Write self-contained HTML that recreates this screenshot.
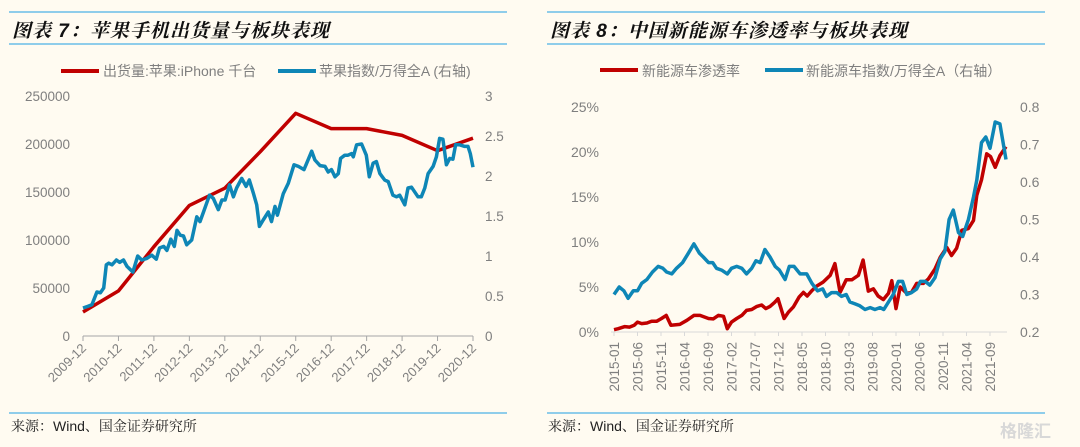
<!DOCTYPE html>
<html><head><meta charset="utf-8">
<style>
html,body{margin:0;padding:0;background:#fffbf1;}
body{width:1080px;height:447px;overflow:hidden;position:relative;font-family:"Liberation Sans","Noto Sans CJK SC",sans-serif;}
.title{position:absolute;top:16px;font-family:"Liberation Sans","Noto Serif CJK SC","Noto Sans CJK SC",sans-serif;font-weight:bold;font-style:italic;font-size:19px;color:#111;letter-spacing:1px;}
.hl{position:absolute;height:2px;background:#8fcdea;}
.src{position:absolute;top:416px;font-family:"Liberation Sans","Noto Serif CJK SC",sans-serif;font-size:14px;color:#222;}
svg{position:absolute;left:0;top:0;}
.wm{position:absolute;left:1000px;top:417px;font-size:17px;font-weight:bold;color:#d8d8d8;}
</style></head>
<body>
<div class="hl" style="left:9px;top:11px;width:498px;"></div>
<div class="hl" style="left:9px;top:43px;width:498px;"></div>
<div class="title" style="left:12px;">图表 7：苹果手机出货量与板块表现</div>
<div class="hl" style="left:547px;top:11px;width:498px;"></div>
<div class="hl" style="left:547px;top:43px;width:498px;"></div>
<div class="title" style="left:550px;">图表 8：中国新能源车渗透率与板块表现</div>
<div class="hl" style="left:9px;top:412px;width:498px;"></div>
<div class="hl" style="left:547px;top:412px;width:498px;"></div>
<div class="src" style="left:11px;">来源：Wind、国金证券研究所</div>
<div class="src" style="left:548px;">来源：Wind、国金证券研究所</div>
<div class="wm">格隆汇</div>
<svg id="chart" width="1080" height="447" xmlns="http://www.w3.org/2000/svg"></svg>
<script>
// ---- Left chart data ----
const leftCats = ["2009-12","2010-12","2011-12","2012-12","2013-12","2014-12","2015-12","2016-12","2017-12","2018-12","2019-12","2020-12"];
const leftShip = [25000,47000,93000,136000,154000,192000,232000,216000,216000,209000,193000,206000];
const leftIdxMonths = [0,1.6,3,4.7,5.9,7,7.9,8.7,9.8,11.3,12.4,13.7,14.9,16.9,18.5,19.9,21.6,23.3,24.8,25.9,27.3,28.4,29.7,30.9,31.8,32.9,34,35.1,36.8,38.5,39.6,40.8,42.8,44.1,45.8,47,48.1,49.6,50.9,52,53.7,55.2,56.3,57.7,58.8,59.7,61,62.7,63.8,65,65.8,67.8,69.5,71.4,72.9,74.8,75.7,77.4,78.5,80.2,81.9,83,84.1,85.3,86.4,87.2,88.6,89.7,90.9,91.5,92.6,94.3,95.9,96.9,98.2,99.3,100.5,102.1,103.3,104.9,106.1,107.2,108.9,110,111.2,113.4,114.5,115.7,116.8,118.5,119.6,120.7,121.8,123,124.1,125.2,126.1,127.5,129.2,130.3,131.1,132];
const leftIdxVals = [0.35,0.37,0.39,0.55,0.54,0.6,0.89,0.91,0.89,0.95,0.92,0.95,0.87,0.8,1,0.95,0.97,1.01,0.96,1.1,1.12,1.07,1.21,1.12,1.32,1.26,1.25,1.14,1.2,1.49,1.43,1.55,1.76,1.72,1.58,1.7,1.7,1.89,1.74,1.85,1.97,1.87,1.95,1.78,1.64,1.37,1.45,1.55,1.43,1.62,1.51,1.78,1.91,2.14,2.12,2.08,2.16,2.31,2.2,2.13,2.12,2.05,2.08,1.99,2.03,2.22,2.26,2.26,2.28,2.24,2.39,2.4,2.26,1.99,2.16,2.18,2.03,1.95,1.93,1.76,1.74,1.76,1.64,1.85,1.86,1.74,1.74,1.85,2.03,2.12,2.24,2.47,2.46,2.14,2.22,2.21,2.39,2.39,2.37,2.37,2.28,2.11];
const leftYTicks = [0,50000,100000,150000,200000,250000];
const leftY2Ticks = ["0","0.5","1","1.5","2","2.5","3"];
// ---- Right chart data ----
const rightCats = ["2015-01","2015-06","2015-11","2016-04","2016-09","2017-02","2017-07","2017-12","2018-05","2018-10","2019-03","2019-08","2020-01","2020-06","2020-11","2021-04","2021-09"];
const rightPenMonths = [0,0.9,2.3,3.3,4.3,5,5.9,7,8,9.1,10.1,11.1,12.1,14,15.5,17,18.3,20.1,21.1,22.2,23.3,24.1,25,26.1,27.2,28.2,29.3,30.4,31.4,32.3,33.2,34.2,34.9,36.2,37.1,38.2,39.4,40.3,41.1,42.1,43.1,44.5,46,47,48.1,49.4,50.6,52,53,54.1,55.2,56.2,57.3,58.4,59.1,60,60.9,62.3,63.3,64.4,65.8,66.9,68.3,69.4,70.8,71.8,72.9,74,75.4,76.5,77.2,78.2,79.3,80.1,81.1,82.1,83.4];
const rightPenVals = [0.26,0.37,0.6,0.55,0.74,1.1,0.93,1,1.2,1.2,1.5,1.85,0.74,0.85,1.3,1.85,1.85,1.5,1.45,1.85,1.75,0.37,1.1,1.5,1.85,2.4,2.5,2.85,3,2.6,2.85,3.3,3.7,1.5,2.2,2.8,3.9,4.4,4,4.6,5.1,5.55,6.3,7.6,4.4,5.8,5.8,6.3,8,4.55,4.8,4,3.6,4.3,5.7,2.6,5,4.3,4.4,5.4,5.4,5.9,7,8.3,9.4,8.5,9.3,11.3,11.5,12.4,15.2,16.9,19.8,19.5,18.3,19.6,20.6];
const rightIdxMonths = [0,1.1,2.1,3,4.1,5,5.9,7,8.2,9.4,10.4,11.2,12.3,13.3,14.6,15.8,17,18.2,19,20.1,21,21.8,22.9,24.1,25,26.1,27.2,28.2,29.3,30.2,31.1,32.1,33.2,34.3,35.2,36.4,37.3,38.3,39.6,41,42.1,43.3,44.4,45.2,46.3,47.4,48.4,49.4,50.2,51.3,52.3,53.4,54.5,55.5,56.6,57.4,58.4,59.4,60.5,61.4,62.3,63.3,64.4,65.2,66.2,67.2,68.3,69.4,70.4,71.3,72.2,73.3,74.2,75.4,76.5,77.2,78.2,79.1,80,81.1,82.1,83.4];
const rightIdxVals = [0.3,0.32,0.31,0.29,0.31,0.31,0.33,0.34,0.36,0.375,0.37,0.36,0.355,0.37,0.385,0.41,0.435,0.41,0.4,0.385,0.385,0.37,0.365,0.355,0.37,0.375,0.37,0.355,0.37,0.39,0.385,0.42,0.4,0.375,0.365,0.34,0.375,0.375,0.355,0.355,0.33,0.31,0.315,0.295,0.305,0.305,0.295,0.3,0.28,0.275,0.27,0.26,0.265,0.26,0.265,0.26,0.28,0.3,0.335,0.335,0.3,0.305,0.315,0.335,0.335,0.325,0.345,0.395,0.415,0.5,0.525,0.465,0.455,0.5,0.56,0.605,0.705,0.72,0.69,0.76,0.755,0.66];
const rightYTicks = [0,5,10,15,20,25];
const rightY2Ticks = ["0.2","0.3","0.4","0.5","0.6","0.7","0.8"];

const svg = document.getElementById('chart');
const NS = 'http://www.w3.org/2000/svg';
function mk(tag, attrs, parent){const e=document.createElementNS(NS,tag);for(const k in attrs)e.setAttribute(k,attrs[k]);(parent||svg).appendChild(e);return e;}
function line(pts){return pts.map((p,i)=>(i?'L':'M')+p[0].toFixed(1)+' '+p[1].toFixed(1)).join(' ');}
const GREY='#7f7f7f', RED='#c00000', BLUE='#0e86b6';

// ---------- LEFT ----------
const L = {x0:83,x1:473,yTop:96,yBot:336};
const lx = m => L.x0 + m/132*(L.x1-L.x0);
const ly = v => L.yBot - v/250000*(L.yBot-L.yTop);
const ly2 = v => L.yBot - v/3*(L.yBot-L.yTop);
let g = mk('g',{});


let ax = mk('line',{x1:L.x0,y1:L.yBot,x2:L.x1,y2:L.yBot,stroke:'#a6a6a6','stroke-width':1},g);


leftCats.forEach((c,i)=>{
  const x=lx(i*12);
  const t=mk('line',{x1:x,y1:L.yBot,x2:x,y2:L.yBot+5,stroke:'#a6a6a6'},g);
  
  
  const tx=mk('text',{x:x+4,y:L.yBot+13,'font-size':13,fill:GREY,'text-anchor':'end',transform:`rotate(-45 ${x+4} ${L.yBot+13})`},g);
  tx.textContent=c;
  
  
});
leftYTicks.forEach(v=>{
  const t=mk('text',{x:70,y:ly(v)+5,'font-size':13.5,fill:GREY,'text-anchor':'end'},g);
  t.textContent=v;
  
  
});
leftY2Ticks.forEach(v=>{
  const t=mk('text',{x:485,y:ly2(+v)+5,'font-size':13.5,fill:GREY,'text-anchor':'start'},g);
  t.textContent=v;
  
  
});
let p = mk('path',{d:line(leftShip.map((v,i)=>[lx(i*12),ly(v)])),fill:'none',stroke:RED,'stroke-width':3.5,'stroke-linejoin':'round'},g);


p = mk('path',{d:line(leftIdxVals.map((v,i)=>[lx(leftIdxMonths[i]),ly2(v)])),fill:'none',stroke:BLUE,'stroke-width':3.5,'stroke-linejoin':'round'},g);


let lg=mk('g',{},g);


mk('line',{x1:61,y1:71,x2:99,y2:71,stroke:RED,'stroke-width':4},lg);
let lt=mk('text',{x:103,y:76,'font-size':14,fill:GREY},lg);lt.textContent='出货量:苹果:iPhone 千台';


mk('line',{x1:278,y1:71,x2:316,y2:71,stroke:BLUE,'stroke-width':4},lg);
lt=mk('text',{x:319,y:76,'font-size':14,fill:GREY},lg);lt.textContent='苹果指数/万得全A (右轴)';



// ---------- RIGHT ----------
const R = {x0:614,pxPerMonth:4.7,yTop:107,yBot:332};
const rx = m => R.x0 + m*R.pxPerMonth;
const ry = v => R.yBot - v/25*(R.yBot-R.yTop);
const ry2 = v => R.yBot - (v-0.2)/0.6*(R.yBot-R.yTop);
g = mk('g',{});


ax = mk('line',{x1:611,y1:R.yBot,x2:1007,y2:R.yBot,stroke:'#d9d9d9','stroke-width':1},g);


rightCats.forEach((c,i)=>{
  const x=rx(i*5);
  const t=mk('line',{x1:x,y1:R.yBot,x2:x,y2:R.yBot+4,stroke:'#d9d9d9'},g);
  
  
  const tx=mk('text',{x:x+5,y:R.yBot+10,'font-size':13.5,fill:GREY,'text-anchor':'end',transform:`rotate(-90 ${x+5} ${R.yBot+10})`},g);
  tx.textContent=c;
  
  
});
rightYTicks.forEach(v=>{
  const t=mk('text',{x:599,y:ry(v)+5,'font-size':14,fill:GREY,'text-anchor':'end'},g);
  t.textContent=v+'%';
  
  
});
rightY2Ticks.forEach(v=>{
  const t=mk('text',{x:1020,y:ry2(+v)+5,'font-size':14,fill:GREY,'text-anchor':'start'},g);
  t.textContent=v;
  
  
});
p = mk('path',{d:line(rightPenVals.map((v,i)=>[rx(rightPenMonths[i]),ry(v)])),fill:'none',stroke:RED,'stroke-width':3.5,'stroke-linejoin':'round'},g);


p = mk('path',{d:line(rightIdxVals.map((v,i)=>[rx(rightIdxMonths[i]),ry2(v)])),fill:'none',stroke:BLUE,'stroke-width':3.5,'stroke-linejoin':'round'},g);


lg=mk('g',{},g);


mk('line',{x1:600,y1:70,x2:638,y2:70,stroke:RED,'stroke-width':4},lg);
lt=mk('text',{x:642,y:76,'font-size':14,fill:GREY},lg);lt.textContent='新能源车渗透率';


mk('line',{x1:765,y1:70,x2:803,y2:70,stroke:BLUE,'stroke-width':4},lg);
lt=mk('text',{x:806,y:76,'font-size':14,fill:GREY},lg);lt.textContent='新能源车指数/万得全A（右轴）';


</script>
</body></html>
